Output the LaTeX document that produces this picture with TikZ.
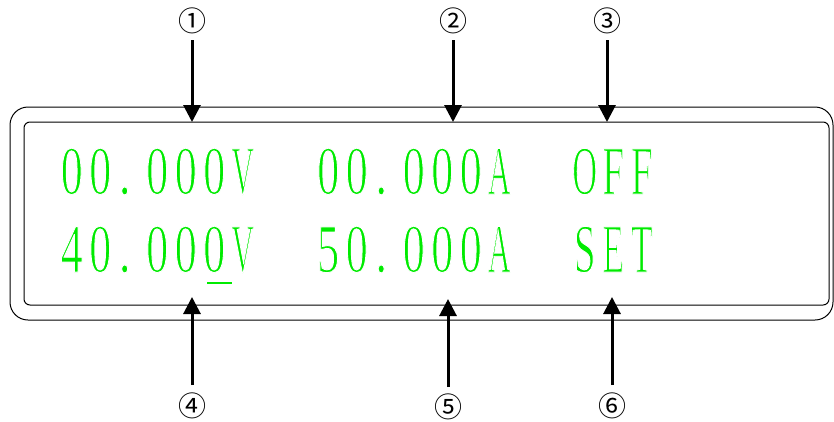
\documentclass[tikz,border=0pt]{standalone}
\usepackage{fontspec}
\setmainfont{Liberation Serif}
\newfontfamily\circfont{Noto Sans CJK SC}
\newfontfamily\lcdD[FakeStretch=0.64]{Liberation Serif}
\newfontfamily\lcdW[FakeStretch=0.46]{Liberation Serif}
\newfontfamily\lcdO[FakeStretch=0.5]{Liberation Serif}
\newfontfamily\lcdF[FakeStretch=0.57]{Liberation Serif}
\newfontfamily\lcdE[FakeStretch=0.52]{Liberation Serif}
\newfontfamily\lcdP[FakeStretch=0.75]{Liberation Serif}
\usetikzlibrary{arrows.meta}
\definecolor{lcdgreen}{RGB}{0,235,0}
\newcommand\thinglyph[1]{\special{pdf:literal direct 2 Tr 1 1 1 RG 0.9 w}#1\special{pdf:literal direct 0 Tr}}
\newcommand\lcdcell[2]{\makebox[28.5pt][c]{#1\thinglyph{#2}}}
\newcommand\lcddot{\makebox[28.5pt][c]{\lcdP\thinglyph{.}\hspace{8pt}}}
\tikzset{
  frame/.style={draw=black, line width=1pt},
  lcd/.style={anchor=base west, inner sep=0pt, text=lcdgreen, font=\fontsize{69}{69}\selectfont},
  lbl/.style={inner sep=0pt, font=\circfont\fontsize{28}{28}\selectfont},
  arr/.style={draw=black, line width=3pt, -{Triangle[width=17pt,length=17pt]}}
}
\begin{document}
\begin{tikzpicture}[x=1pt,y=-1pt]
\useasboundingbox (0,0) rectangle (834,421);
% frames
\draw[frame, rounded corners=18pt] (10,107) rectangle (833,320);
\draw[frame, rounded corners=6pt] (24,122) rectangle (829,305);
% row 1
\node[lcd] (v1) at (57.25,194) {\lcdcell\lcdD0\lcdcell\lcdD0\lcddot\lcdcell\lcdD0\lcdcell\lcdD0\lcdcell\lcdD0\lcdcell\lcdW V};
\node[lcd] (a1) at (313.75,194) {\lcdcell\lcdD0\lcdcell\lcdD0\lcddot\lcdcell\lcdD0\lcdcell\lcdD0\lcdcell\lcdD0\lcdcell\lcdW A};
\node[lcd] (s1) at (570.25,194) {\lcdcell\lcdO O\lcdcell\lcdF F\lcdcell\lcdF F};
% row 2
\node[lcd] (v2) at (57.25,272) {\lcdcell\lcdD4\lcdcell\lcdD0\lcddot\lcdcell\lcdD0\lcdcell\lcdD0\lcdcell\lcdD0\lcdcell\lcdW V};
\node[lcd] (a2) at (313.75,272) {\lcdcell\lcdD5\lcdcell\lcdD0\lcddot\lcdcell\lcdD0\lcdcell\lcdD0\lcdcell\lcdD0\lcdcell\lcdW A};
\node[lcd] (s2) at (570.25,272) {\lcdcell\lcdF S\lcdcell\lcdE E\lcdcell\lcdE T};
% cursor
\draw[lcdgreen, line width=2pt] (207,283) -- (232,283);
% labels
\node[lbl] (n1) at (192,21) {①};
\node[lbl] (n2) at (453,21) {②};
\node[lbl] (n3) at (607,21) {③};
\node[lbl] (n4) at (192,406) {④};
\node[lbl] (n5) at (448,407) {⑤};
\node[lbl] (n6) at (612,406) {⑥};
\coordinate (t1) at (192,122);
\coordinate (t2) at (453,122);
\coordinate (t3) at (607,122);
\coordinate (t4) at (192,297);
\coordinate (t5) at (448,299);
\coordinate (t6) at (612,297);
\draw[arr] ([yshift=-19pt]n1.center) -- (t1);
\draw[arr] ([yshift=-19pt]n2.center) -- (t2);
\draw[arr] ([yshift=-19pt]n3.center) -- (t3);
\draw[arr] ([yshift=21pt]n4.center) -- (t4);
\draw[arr] ([yshift=20pt]n5.center) -- (t5);
\draw[arr] ([yshift=21pt]n6.center) -- (t6);
\end{tikzpicture}
\end{document}
